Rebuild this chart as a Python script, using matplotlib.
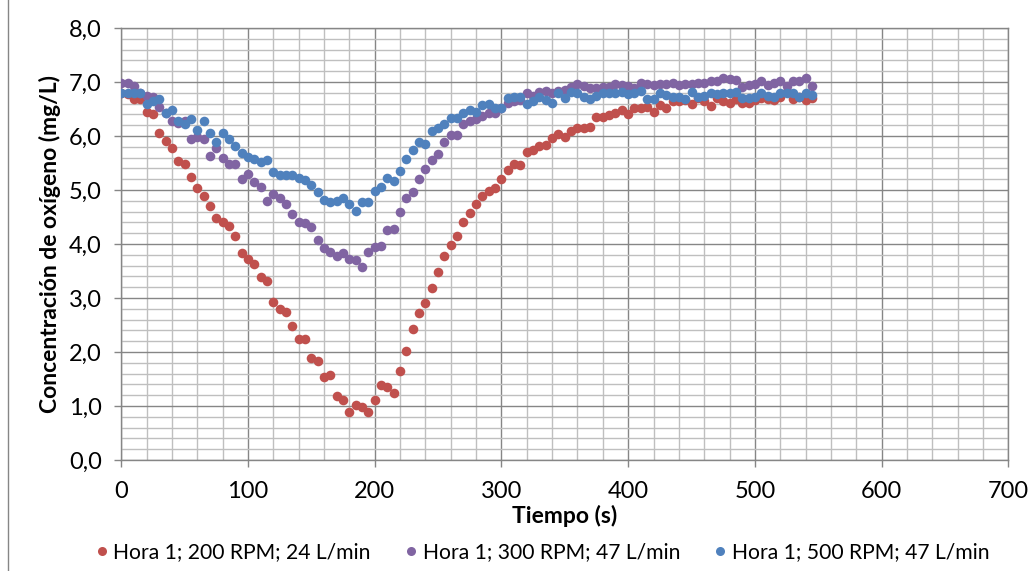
import matplotlib
matplotlib.use("Agg")
import matplotlib.pyplot as plt
from matplotlib.lines import Line2D
from matplotlib.ticker import MultipleLocator, FuncFormatter

plt.rcParams["font.family"] = ["Lato", "DejaVu Sans"]

# sampling time (s), one reading every 5 s
TIME = list(range(0, 550, 5))

O2_200RPM = [
    6.80, 6.78, 6.68, 6.68, 6.45, 6.41, 6.06, 5.91, 5.77, 5.54,
    5.49, 5.24, 5.03, 4.88, 4.70, 4.48, 4.41, 4.34, 4.15, 3.83,
    3.73, 3.63, 3.39, 3.32, 2.93, 2.79, 2.75, 2.49, 2.25, 2.24,
    1.88, 1.83, 1.54, 1.57, 1.19, 1.11, 0.89, 1.02, 0.99, 0.89,
    1.11, 1.39, 1.35, 1.25, 1.65, 2.02, 2.42, 2.72, 2.90, 3.18,
    3.49, 3.78, 3.98, 4.15, 4.40, 4.57, 4.75, 4.89, 4.98, 5.04,
    5.20, 5.37, 5.49, 5.47, 5.71, 5.74, 5.81, 5.83, 5.97, 6.04,
    5.98, 6.10, 6.14, 6.15, 6.17, 6.35, 6.35, 6.38, 6.43, 6.48,
    6.40, 6.52, 6.52, 6.54, 6.45, 6.58, 6.52, 6.65, 6.64, 6.66,
    6.60, 6.70, 6.65, 6.56, 6.70, 6.64, 6.61, 6.68, 6.61, 6.62,
    6.66, 6.70, 6.68, 6.67, 6.72, 6.82, 6.68, 6.72, 6.67, 6.70,
]

O2_300RPM = [
    6.99, 6.99, 6.92, 6.80, 6.74, 6.72, 6.54, 6.42, 6.27, 6.25,
    6.28, 5.94, 5.99, 5.94, 5.63, 5.77, 5.59, 5.48, 5.48, 5.20,
    5.30, 5.14, 5.05, 4.80, 4.93, 4.85, 4.74, 4.56, 4.41, 4.39,
    4.32, 4.07, 3.92, 3.86, 3.78, 3.83, 3.73, 3.70, 3.58, 3.86,
    3.95, 3.96, 4.26, 4.27, 4.60, 4.85, 4.97, 5.20, 5.38, 5.56,
    5.67, 5.89, 6.02, 6.02, 6.23, 6.27, 6.31, 6.37, 6.42, 6.43,
    6.51, 6.61, 6.64, 6.67, 6.79, 6.74, 6.82, 6.84, 6.80, 6.84,
    6.85, 6.91, 6.96, 6.93, 6.88, 6.88, 6.91, 6.91, 6.96, 6.94,
    6.93, 6.88, 6.99, 6.96, 6.94, 6.96, 6.96, 6.99, 6.94, 6.96,
    6.96, 6.98, 6.99, 7.02, 7.02, 7.07, 7.05, 7.04, 6.91, 6.94,
    6.96, 7.01, 6.94, 6.98, 7.02, 6.93, 7.01, 7.02, 7.07, 6.93,
]

O2_500RPM = [
    6.80, 6.79, 6.79, 6.79, 6.60, 6.64, 6.68, 6.43, 6.49, 6.28,
    6.23, 6.31, 6.12, 6.28, 6.05, 5.89, 6.06, 5.94, 5.81, 5.69,
    5.61, 5.57, 5.51, 5.56, 5.34, 5.28, 5.28, 5.28, 5.22, 5.19,
    5.10, 4.97, 4.81, 4.77, 4.80, 4.86, 4.74, 4.62, 4.77, 4.78,
    4.99, 5.05, 5.22, 5.16, 5.36, 5.57, 5.74, 5.88, 5.86, 6.09,
    6.14, 6.23, 6.33, 6.33, 6.42, 6.49, 6.45, 6.57, 6.59, 6.52,
    6.52, 6.70, 6.72, 6.73, 6.59, 6.65, 6.73, 6.67, 6.62, 6.79,
    6.70, 6.82, 6.79, 6.72, 6.68, 6.74, 6.79, 6.79, 6.79, 6.82,
    6.78, 6.80, 6.84, 6.68, 6.68, 6.80, 6.76, 6.72, 6.73, 6.68,
    6.82, 6.72, 6.74, 6.79, 6.78, 6.80, 6.80, 6.82, 6.70, 6.70,
    6.72, 6.79, 6.74, 6.72, 6.80, 6.79, 6.79, 6.72, 6.79, 6.76,
]

SERIES = [
    ("Hora 1; 200 RPM; 24 L/min", O2_200RPM, "#C0504D"),
    ("Hora 1; 300 RPM; 47 L/min", O2_300RPM, "#8064A2"),
    ("Hora 1; 500 RPM; 47 L/min", O2_500RPM, "#4F81BD"),
]

fig = plt.figure(figsize=(10.35, 5.71), dpi=100)
ax = fig.add_axes([121.3 / 1035, 111 / 571, 887 / 1035, 432 / 571])

for label, vals, color in SERIES:
    ax.scatter(TIME, vals, s=48, color=color, linewidths=0, zorder=3)

ax.set_xlim(0, 700)
ax.set_ylim(0, 8)
ax.xaxis.set_major_locator(MultipleLocator(100))
ax.xaxis.set_minor_locator(MultipleLocator(20))
ax.yaxis.set_major_locator(MultipleLocator(1))
ax.yaxis.set_minor_locator(MultipleLocator(0.2))
ax.yaxis.set_major_formatter(FuncFormatter(lambda v, _: f"{v:.1f}".replace(".", ",")))

ax.grid(which="minor", color="#BFBFBF", linewidth=1.0, zorder=0)
ax.grid(which="major", color="#868686", linewidth=1.0, zorder=1)
ax.set_axisbelow(True)
for s in ax.spines.values():
    s.set_color("#868686")
    s.set_linewidth(1.0)

ax.tick_params(which="major", direction="out", length=5, width=1.0,
               color="#868686", labelsize=17)
ax.tick_params(axis="x", pad=10)
ax.tick_params(axis="y", pad=9)
ax.tick_params(which="minor", length=0)

ax.set_xlabel("Tiempo (s)", fontsize=16.5, fontweight="bold", labelpad=2)
ax.set_ylabel("Concentración de oxígeno (mg/L)", fontsize=16.5,
              fontweight="bold", labelpad=6)

handles = [Line2D([], [], linestyle="none", marker="o", markersize=6.5,
                  markerfacecolor=c, markeredgewidth=0) for _, _, c in SERIES]
fig.legend(handles, [lab for lab, _, _ in SERIES], loc="center",
           bbox_to_anchor=(0.522, 0.033), ncol=3, frameon=False, fontsize=15.2,
           handletextpad=0.05, columnspacing=1.4, handlelength=1.0,
           borderpad=0.2)

# chart-area border on the left
fig.add_artist(Line2D([8 / 1035, 8 / 1035], [0, 1], color="#868686", lw=1.0))

fig.savefig("out.png", dpi=100)
